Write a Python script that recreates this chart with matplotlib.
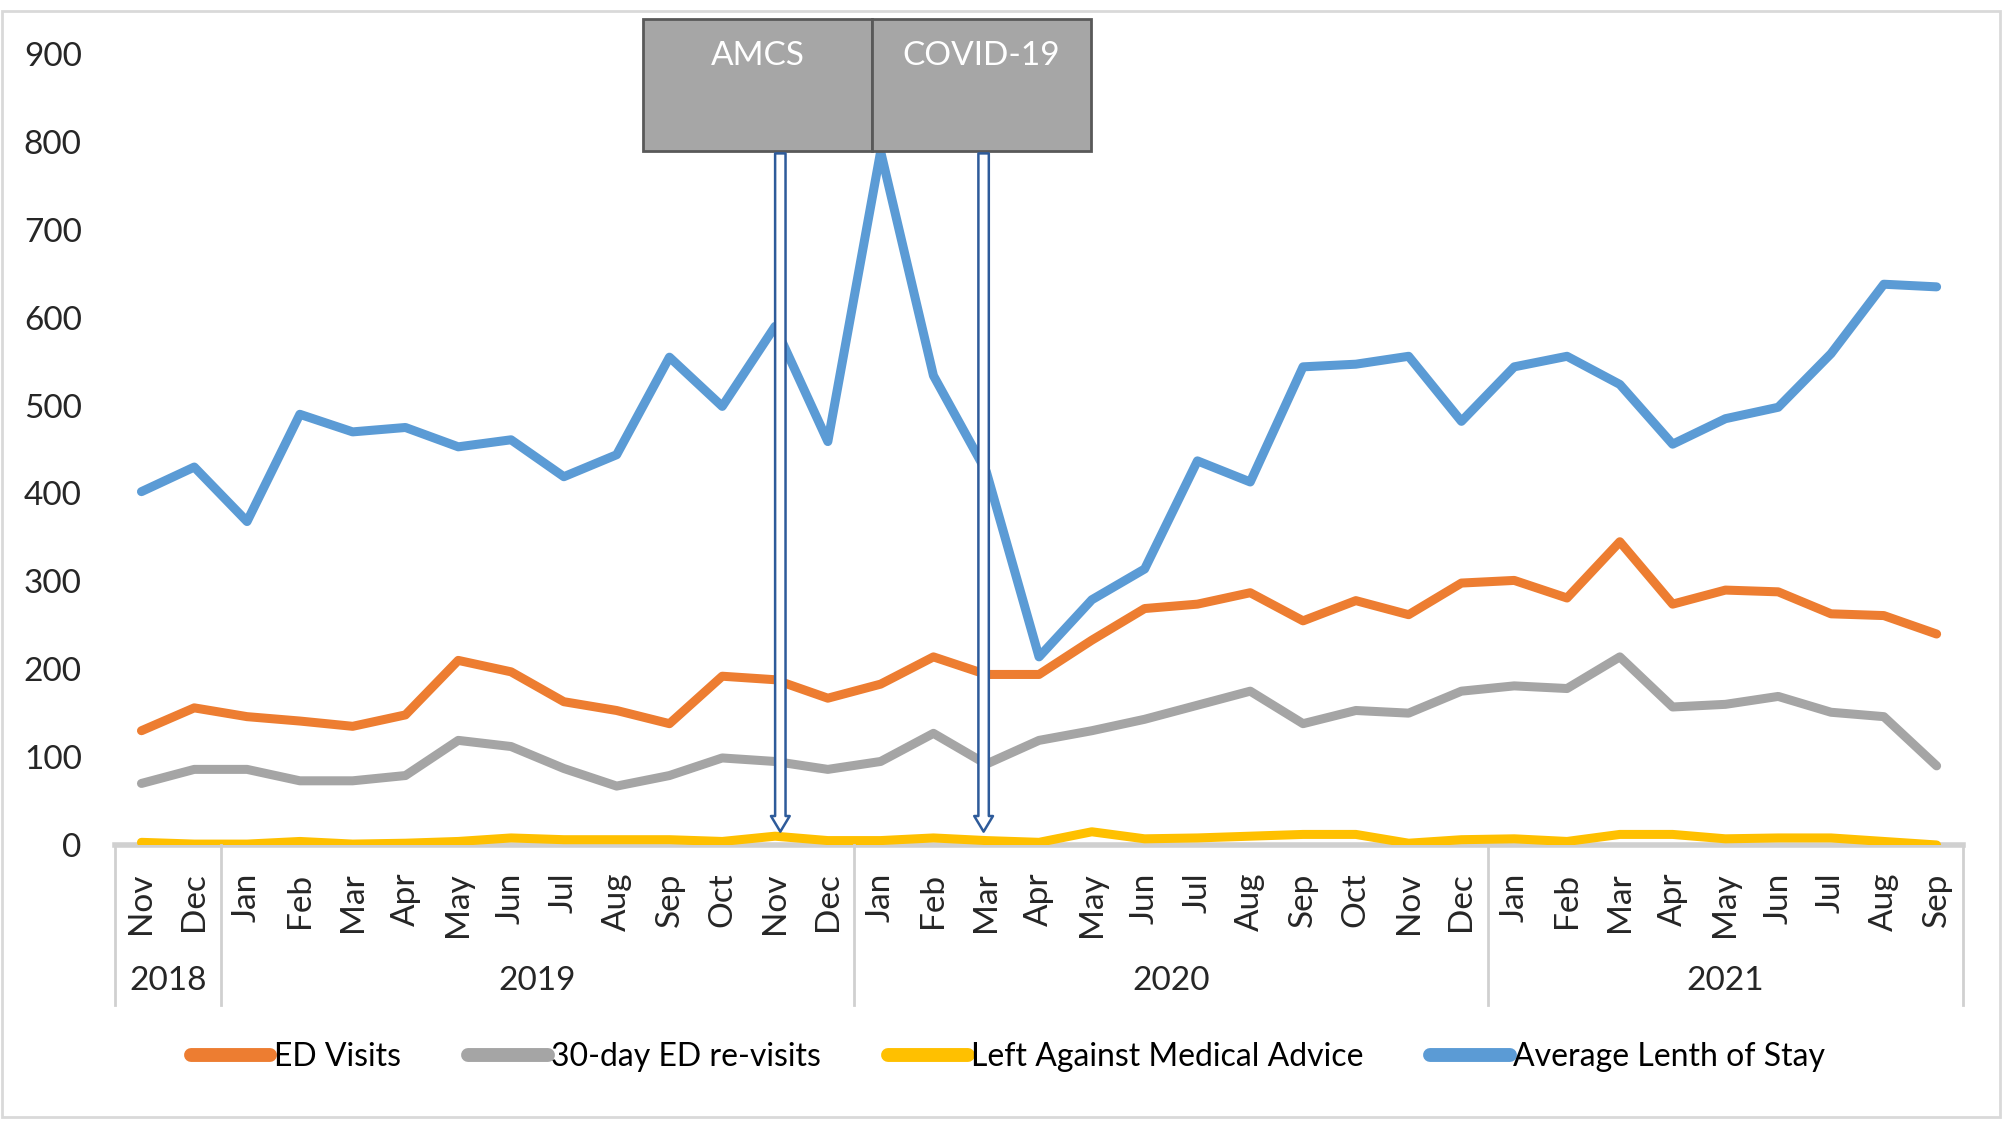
import matplotlib
matplotlib.use("Agg")
import matplotlib.pyplot as plt
from matplotlib.patches import Rectangle, FancyArrowPatch
from matplotlib.transforms import blended_transform_factory

plt.rcParams['font.family'] = ['Lato', 'DejaVu Sans']

months = ["Nov", "Dec",
          "Jan", "Feb", "Mar", "Apr", "May", "Jun", "Jul", "Aug", "Sep", "Oct", "Nov", "Dec",
          "Jan", "Feb", "Mar", "Apr", "May", "Jun", "Jul", "Aug", "Sep", "Oct", "Nov", "Dec",
          "Jan", "Feb", "Mar", "Apr", "May", "Jun", "Jul", "Aug", "Sep"]
years = ["2018", "2019", "2020", "2021"]
months_per_year = [2, 12, 12, 9]

ed_visits = [130, 156, 146, 141, 135, 148, 210, 197, 163, 153, 138, 192, 188, 167,
             183, 214, 194, 194, 233, 269, 274, 287, 255, 278, 262, 298,
             301, 281, 345, 274, 290, 288, 263, 261, 240]
revisits = [70, 86, 86, 73, 73, 79, 119, 112, 87, 67, 79, 99, 95, 86,
            95, 127, 92, 119, 130, 143, 159, 175, 138, 153, 150, 175,
            181, 178, 214, 157, 160, 169, 151, 146, 90]
lama = [3, 1, 1, 4, 1, 2, 4, 8, 6, 6, 6, 4, 10, 5,
        5, 8, 5, 3, 15, 7, 8, 10, 12, 12, 2, 6,
        7, 4, 12, 12, 7, 8, 8, 4, 0]
avg_los = [402, 430, 368, 490, 470, 475, 453, 461, 419, 444, 555, 499, 590, 459,
           789, 534, 425, 214, 279, 314, 437, 413, 544, 547, 556, 482,
           544, 556, 524, 456, 485, 498, 559, 638, 635]

series = [("ED Visits", ed_visits, "#ED7D31"),
          ("30-day ED re-visits", revisits, "#A5A5A5"),
          ("Left Against Medical Advice", lama, "#FFC000"),
          ("Average Lenth of Stay", avg_los, "#5B9BD5")]

# events: label, arrow x (month index), box span in month index
events = [("AMCS", 12.1, 9.5, 13.84), ("COVID-19", 15.95, 13.84, 17.98)]

fig = plt.figure(figsize=(20.08, 11.31), dpi=100)
ax = fig.add_axes([0.0573, 0.2529, 0.9203, 0.6994])

x = list(range(len(months)))
for name, vals, col in series:
    ax.plot(x, vals, color=col, lw=6.5, label=name,
            solid_joinstyle='round', solid_capstyle='round')

ax.set_xlim(-0.5, len(months) - 0.5)
ax.set_ylim(0, 900)
ax.set_yticks(range(0, 901, 100))
ax.tick_params(axis='y', length=0, pad=24, labelsize=24, labelcolor='#262626')
ax.set_xticks(x)
ax.set_xticklabels(months, rotation=90, fontsize=24, color='#262626')
ax.tick_params(axis='x', length=0, pad=20)

for s in ['top', 'right', 'left']:
    ax.spines[s].set_visible(False)
ax.spines['bottom'].set_color('#d0d0d0')
ax.spines['bottom'].set_linewidth(4)
ax.spines['bottom'].set_zorder(0.5)

# multi-level category axis
trans = blended_transform_factory(ax.transData, ax.transAxes)
edges = [-0.5]
for n in months_per_year:
    edges.append(edges[-1] + n)
for e in edges:
    ax.plot([e, e], [0, -0.202], transform=trans, color='#d0d0d0', lw=2, clip_on=False)
for i, yr in enumerate(years):
    ax.text((edges[i] + edges[i + 1]) / 2, -0.172, yr, transform=trans,
            ha='center', va='center', fontsize=24, color='#262626')

# annotation boxes and arrows
for label, xa, x0, x1 in events:
    ax.add_patch(Rectangle((x0, 790), x1 - x0, 150, facecolor='#a6a6a6',
                           edgecolor='#595959', lw=2, clip_on=False, zorder=5))
    ax.text((x0 + x1) / 2, 898, label, ha='center', va='center', fontsize=24,
            color='white', zorder=6, clip_on=False)
    arr = FancyArrowPatch((xa, 790), (xa, 12),
                          arrowstyle='simple,head_width=0.9,head_length=0.75,tail_width=0.5',
                          mutation_scale=15, facecolor='white', edgecolor='#2e5b9a',
                          lw=1.8, zorder=6, clip_on=False)
    ax.add_patch(arr)

leg = fig.legend(loc='center', bbox_to_anchor=(0.502, 0.0654), ncol=4, frameon=False,
                 fontsize=23, handlelength=2.5, handletextpad=0.1, columnspacing=2.1)
for h in leg.get_lines():
    h.set_linewidth(10)

fig.patches.append(Rectangle((0.001, 0.012), 0.995, 0.978, transform=fig.transFigure,
                             fill=False, edgecolor='#d9d9d9', lw=2))

fig.savefig("out.png", dpi=100)
